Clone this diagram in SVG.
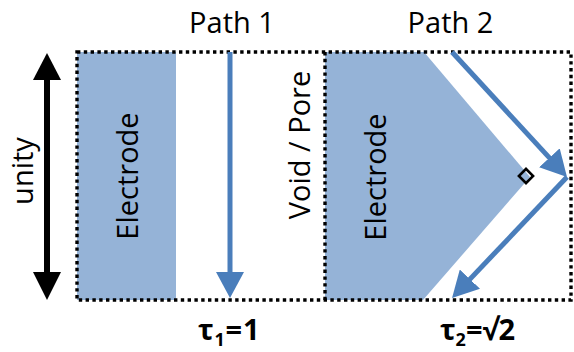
<svg xmlns="http://www.w3.org/2000/svg" width="574" height="352" viewBox="0 0 574 352">
<style>
.el{fill:#95B3D7;stroke:none}
.dot{fill:none;stroke:#000;stroke-width:3.4;stroke-dasharray:3.4 3.4}
.t{font-family:"Open Sans","Liberation Sans",sans-serif;font-size:29px;fill:#000}
.tb{font-family:"Open Sans","Liberation Sans",sans-serif;font-size:29px;font-weight:bold;fill:#000}
.blue{fill:none;stroke:#4A7EBB;stroke-width:5}
</style>
<defs>
<marker id="ah" markerUnits="userSpaceOnUse" markerWidth="26" markerHeight="28" refX="13" refY="14" orient="auto" viewBox="0 0 26 28">
<path d="M0,0 L26,14 L0,28 Z" fill="#4A7EBB"/>
</marker>
</defs>
<g id="electrode1"><rect class="el" x="77" y="52" width="99" height="248"/></g>
<g id="electrode2"><polygon class="el" points="325,52 424,52 530,177 423,300 325,300"/></g>
<g id="frame">
<rect class="dot" x="77" y="52" width="494" height="248"/>
<line class="dot" x1="325" y1="52" x2="325" y2="300"/>
</g>
<g id="connectors">
<line class="blue" x1="230" y1="52" x2="230" y2="285" marker-end="url(#ah)"/>
<line class="blue" x1="452" y1="52" x2="558.2" y2="167.4" marker-end="url(#ah)"/>
<line class="blue" x1="567" y1="177" x2="461" y2="288.6" marker-end="url(#ah)"/>
<g id="unity-arrow">
<line x1="47" y1="78" x2="47" y2="274" stroke="#000" stroke-width="6"/>
<polygon points="47,53 33,80 61,80" fill="#000"/>
<polygon points="47,300 33,272 61,272" fill="#000"/>
</g>
</g>
<g id="right-angle"><rect x="-5" y="-5" width="10" height="10" fill="none" stroke="#000" stroke-width="2.6" transform="translate(526,176) rotate(45)"/></g>
<g id="labels">
<text class="t" x="232" y="33" text-anchor="middle">Path 1</text>
<text class="t" x="450.5" y="33" text-anchor="middle">Path 2</text>
<text class="t" text-anchor="middle" transform="translate(33,171) rotate(-90)">unity</text>
<text class="t" text-anchor="middle" transform="translate(138,176) rotate(-90)">Electrode</text>
<text class="t" text-anchor="middle" transform="translate(310,145) rotate(-90)">Void / Pore</text>
<text class="t" text-anchor="middle" transform="translate(386,177) rotate(-90)">Electrode</text>
<text class="tb" x="198" y="340" letter-spacing="0.8">τ<tspan font-size="18" dy="6">1</tspan><tspan dy="-6">=1</tspan></text>
<text class="tb" x="440" y="340">τ<tspan font-size="18" dy="6">2</tspan><tspan dy="-6">=√2</tspan></text>
</g>
</svg>
